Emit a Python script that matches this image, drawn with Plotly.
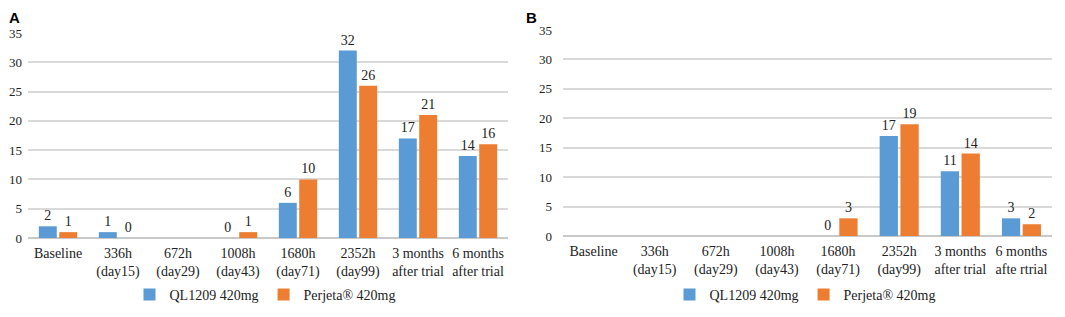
import plotly.graph_objects as go

categories_a = ["Baseline", "336h<br>(day15)", "672h<br>(day29)", "1008h<br>(day43)",
                "1680h<br>(day71)", "2352h<br>(day99)", "3 months<br>after trial", "6 months<br>after trial"]
categories_b = ["Baseline", "336h<br>(day15)", "672h<br>(day29)", "1008h<br>(day43)",
                "1680h<br>(day71)", "2352h<br>(day99)", "3 months<br>after trial", "6 months<br>afte rtrial"]

ql_a = [2, 1, None, 0, 6, 32, 17, 14]
pj_a = [1, 0, None, 1, 10, 26, 21, 16]
ql_b = [None, None, None, None, 0, 17, 11, 3]
pj_b = [None, None, None, None, 3, 19, 14, 2]

series_names = ["QL1209 420mg", "Perjeta® 420mg"]
y_ticks = [0, 5, 10, 15, 20, 25, 30, 35]

BLUE = "#5B9BD5"
ORANGE = "#ED7D31"
SERIF = "Liberation Serif"

W, H = 1049, 301  # page body has an 8px margin

def px_x(v):
    return v / W

def px_y(v):
    return 1 - v / H

def txt(vals):
    return ["" if v is None else str(v) for v in vals]

fig = go.Figure()
for xa, ya, cats, vals, color, name, leg in [
    ("x", "y", categories_a, ql_a, BLUE, series_names[0], "legend"),
    ("x", "y", categories_a, pj_a, ORANGE, series_names[1], "legend"),
    ("x2", "y2", categories_b, ql_b, BLUE, series_names[0], "legend2"),
    ("x2", "y2", categories_b, pj_b, ORANGE, series_names[1], "legend2"),
]:
    fig.add_trace(go.Bar(
        x=cats, y=vals, name=name, xaxis=xa, yaxis=ya, legend=leg,
        marker=dict(color=color, line=dict(width=0)),
        text=txt(vals), textposition="outside", cliponaxis=False,
        textfont=dict(family=SERIF, size=14, color="#222222"),
    ))

axis_common_x = dict(showgrid=False, showline=False, ticks="", zeroline=False, automargin=False,
                     tickfont=dict(family=SERIF, size=14, color="#222222"),
                     ticklabelstandoff=5, tickangle=0)
axis_common_y = dict(range=[0, 35], tickvals=y_ticks, showgrid=True, gridcolor="#D9D9D9",
                     gridwidth=1.5, zeroline=True, zerolinecolor="#C8C8C8", zerolinewidth=1.5,
                     showline=False, ticks="", automargin=False,
                     tickfont=dict(family=SERIF, size=13, color="#222222"))

fig.update_layout(
    width=W, height=H,
    margin=dict(l=0, r=0, t=0, b=0, autoexpand=False),
    font=dict(family=SERIF),
    paper_bgcolor="white", plot_bgcolor="white",
    barmode="group", bargap=0.32, bargroupgap=0.12,
    xaxis=dict(domain=[px_x(20), px_x(500)], anchor="y", **axis_common_x),
    yaxis=dict(domain=[px_y(230), px_y(25)], anchor="x", ticklabelstandoff=5, **axis_common_y),
    xaxis2=dict(domain=[px_x(555), px_x(1044)], anchor="y2", **axis_common_x),
    yaxis2=dict(domain=[px_y(228), px_y(22)], anchor="x2", ticklabelstandoff=10, **axis_common_y),
    legend=dict(orientation="h", x=px_x(257), xanchor="center", y=px_y(287), yanchor="middle",
                font=dict(family=SERIF, size=14, color="#222222"), itemwidth=30,
                bgcolor="rgba(0,0,0,0)"),
    legend2=dict(orientation="h", x=px_x(797), xanchor="center", y=px_y(287), yanchor="middle",
                 font=dict(family=SERIF, size=14, color="#222222"), itemwidth=30,
                 bgcolor="rgba(0,0,0,0)"),
    annotations=[
        dict(text="<b>A</b>", x=0, y=1, xref="paper", yref="paper",
             xanchor="left", yanchor="top", showarrow=False, borderpad=0,
             font=dict(family="Liberation Sans", size=15, color="black")),
        dict(text="<b>B</b>", x=px_x(517), y=1, xref="paper", yref="paper",
             xanchor="left", yanchor="top", showarrow=False, borderpad=0,
             font=dict(family="Liberation Sans", size=15, color="black")),
    ],
)

fig.write_html("out.html")
